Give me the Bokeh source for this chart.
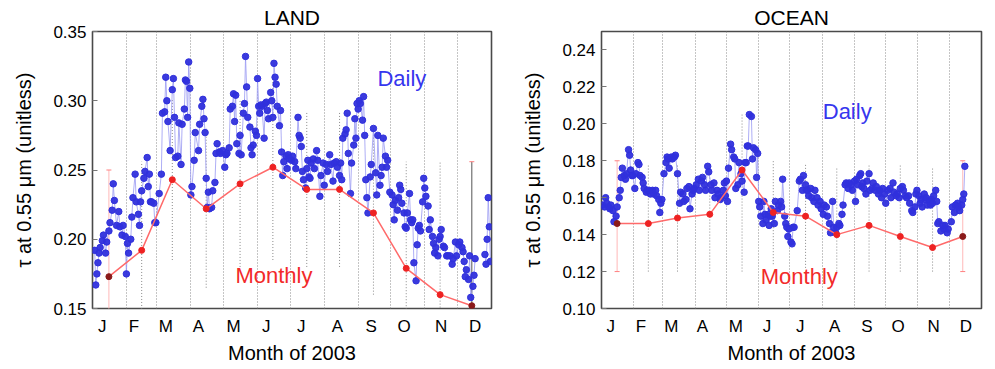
import numpy as np
from bokeh.plotting import figure
from bokeh.layouts import row
from bokeh.models import Range1d, FixedTicker, PrintfTickFormatter, Label
from bokeh.embed import file_html
from bokeh.resources import INLINE

# ---------------- data ----------------
month_letters = ["J", "F", "M", "A", "M", "J", "J", "A", "S", "O", "N", "D"]
month_label_days = [9, 38, 67, 97, 129, 159, 191, 224, 255, 285, 319, 350]
month_bounds = [31, 59, 90, 120, 151, 181, 212, 243, 273, 304, 334]
monthly_days = [15, 45, 73, 104, 135, 165, 196, 226, 257, 287, 318, 347]

land_day = (
    [2, 3, 4, 5, 6, 7, 9, 10, 12, 13, 15, 16, 18, 19, 20, 22, 24, 25, 27, 28, 30]
    + [31, 32, 33, 35, 36, 37, 39, 40, 42, 43, 44, 45, 47, 48, 50, 51, 52, 53, 54, 56, 57, 58]
    + [61, 63, 64, 66, 67, 68, 69, 71, 73, 74, 75, 76, 78, 79, 81, 82, 84, 85, 86, 87, 88, 89]
    + [90, 91, 93, 94, 97, 98, 100, 101, 102, 103, 104, 105, 106, 107, 109, 110, 112, 113, 114, 116, 117, 119]
    + [121, 122, 123, 125, 126, 128, 129, 130, 131, 132, 134, 135, 136, 138, 139, 140, 141, 142, 144, 145, 146, 147, 149, 150]
    + [151, 152, 153, 154, 155, 157, 158, 159, 160, 161, 163, 164, 165, 166, 167, 168, 169, 171, 172, 173, 174, 175, 177, 178, 179, 180]
    + [182, 183, 185, 186, 188, 189, 190, 191, 192, 193, 195, 196, 197, 198, 199, 200, 202, 203, 205, 206, 208, 209, 211]
    + [212, 214, 215, 217, 218, 220, 221, 223, 224, 226, 227, 228, 229, 231, 232, 233, 234, 236, 237, 239, 240, 241, 242]
    + [243, 244, 245, 247, 248, 249, 250, 251, 252, 254, 255, 257, 259, 260, 261, 263, 264, 265, 266, 268, 269, 270, 272]
    + [274, 275, 276, 277, 279, 280, 281, 282, 283, 285, 286, 287, 288, 290, 291, 292, 293, 294, 296, 297, 298, 299, 300, 302, 303]
    + [304, 305, 307, 308, 309, 311, 312, 313, 314, 316, 317, 318, 319, 321, 322, 324, 325, 327, 329, 330, 332, 333]
    + [335, 336, 338, 339, 340, 341, 342, 344, 345, 346, 348, 349, 350, 359, 360, 361, 362, 363, 364]
)
land_aod = (
    [.192, .167, .175, .183, .190, .194, .199, .203, .190, .198, .206, .212, .221, .240, .228, .210, .220, .209, .203, .210, .202]
    + [.175, .197, .190, .200, .216, .230, .247, .227, .218, .210, .227, .235, .244, .249, .259, .238, .247, .227, .227, .226, .212, .212]
    + [.233, .247, .291, .292, .317, .300, .285, .264, .308, .316, .288, .259, .260, .284, .254, .283, .294, .315, .314, .288, .328, .309]
    + [.232, .238, .257, .277, .264, .283, .296, .301, .287, .277, .244, .223, .234, .222, .223, .235, .241, .262, .269, .263, .262, .264]
    + [.252, .261, .262, .266, .294, .296, .305, .285, .304, .269, .262, .275, .261, .291, .298, .332, .310, .288, .281, .266, .261, .268, .278, .275]
    + [.316, .296, .291, .297, .296, .273, .298, .299, .293, .287, .306, .300, .288, .327, .317, .312, .296, .282, .293, .263, .246, .256, .260, .251, .261, .258]
    + [.257, .260, .256, .251, .288, .275, .273, .267, .249, .243, .237, .251, .257, .245, .244, .255, .258, .251, .264, .257, .231, .246, .255]
    + [.239, .254, .249, .261, .254, .242, .255, .256, .252, .246, .255, .243, .273, .276, .279, .291, .262, .233, .255, .268, .287, .273, .298]
    + [.294, .300, .298, .286, .303, .275, .243, .230, .219, .245, .254, .280, .248, .232, .275, .239, .246, .252, .273, .260, .252, .257, .234]
    + [.232, .225, .214, .228, .221, .230, .239, .236, .226, .219, .209, .208, .219, .233, .214, .212, .214, .183, .170, .196, .208, .210, .206, .227, .244]
    + [.237, .231, .224, .207, .214, .202, .197, .190, .194, .188, .200, .202, .207, .195, .194, .188, .188, .188, .182, .186, .198, .188]
    + [.196, .198, .194, .191, .184, .173, .178, .171, .188, .158, .166, .174, .186, .189, .182, .200, .230, .209, .184]
)
land_monthly = [0.173, 0.192, 0.243, 0.222, 0.240, 0.252, 0.236, 0.236, 0.219, 0.179, 0.160, 0.152]
land_err_lo = [0.096, 0.128, 0.185, 0.165, 0.180, 0.185, 0.180, 0.180, 0.160, 0.104, 0.064, 0.048]
land_err_hi = [0.250, 0.256, 0.301, 0.280, 0.300, 0.319, 0.292, 0.292, 0.278, 0.256, 0.256, 0.256]

ocean_day = (
    [1, 3, 4, 5, 7, 8, 9, 11, 12, 14, 15, 17, 18, 19, 20, 22, 23, 24, 26, 27, 28, 29, 30]
    + [32, 33, 35, 36, 37, 39, 40, 41, 43, 44, 46, 47, 49, 50, 52, 53, 55, 56, 57, 58]
    + [60, 62, 63, 64, 65, 67, 68, 70, 71, 73, 75, 76, 78, 79, 81, 82, 84, 85, 87, 88, 89]
    + [91, 93, 94, 96, 97, 99, 100, 102, 103, 105, 106, 108, 109, 111, 112, 114, 115, 117, 118, 119]
    + [120, 121, 122, 124, 125, 127, 128, 129, 131, 132, 134, 135, 137, 138, 139, 140, 141, 142, 144, 145, 146, 148, 149, 150]
    + [151, 152, 153, 155, 156, 157, 158, 160, 161, 162, 163, 164, 166, 167, 169, 170, 172, 173, 174, 176, 177, 178, 179, 180]
    + [182, 183, 184, 185, 188, 190, 191, 193, 194, 196, 197, 198, 199, 201, 202, 204, 205, 207, 208, 210, 211]
    + [213, 214, 216, 217, 219, 220, 222, 223, 225, 226, 228, 229, 231, 232, 234, 235, 237, 238, 240, 241]
    + [243, 244, 245, 246, 248, 249, 250, 251, 252, 254, 255, 257, 258, 260, 261, 263, 264, 266, 267, 269, 270, 272]
    + [273, 275, 277, 278, 280, 281, 283, 284, 286, 287, 289, 290, 292, 293, 295, 296, 298, 299, 301, 302, 303]
    + [305, 306, 307, 308, 310, 311, 312, 313, 315, 316, 317, 318, 319, 321, 322, 323, 324, 326, 328, 329, 330, 332, 333]
    + [336, 337, 339, 340, 342, 343, 344, 346, 347, 348, 349]
)
ocean_aod = (
    [.156, .155, .160, .157, .155, .154, .156, .153, .147, .150, .155, .160, .164, .171, .176, .172, .170, .173, .186, .183, .175, .172, .172]
    + [.165, .173, .179, .178, .172, .171, .168, .165, .163, .164, .164, .162, .164, .162, .164, .161, .159, .152, .157, .159]
    + [.173, .179, .182, .181, .176, .182, .181, .182, .183, .173, .157, .163, .162, .158, .159, .165, .166, .154, .162, .164, .165]
    + [.167, .170, .164, .169, .171, .167, .164, .177, .174, .167, .164, .168, .160, .164, .162, .159, .160, .164, .168, .161]
    + [.169, .158, .176, .189, .186, .182, .181, .165, .167, .179, .173, .169, .163, .179, .179, .188, .188, .205, .204, .181, .187, .186, .171, .184]
    + [.158, .155, .150, .146, .158, .151, .148, .151, .145, .150, .154, .150, .146, .158, .153, .156, .158, .155, .170, .150, .146, .144, .139, .143]
    + [.136, .135, .144, .144, .153, .169, .170, .164, .172, .167, .164, .164, .161, .165, .160, .158, .164, .160, .156, .158, .154]
    + [.151, .156, .155, .150, .146, .141, .158, .144, .141, .144, .146, .145, .151, .156, .167, .168, .165, .168, .167, .164]
    + [.169, .158, .170, .167, .172, .173, .166, .168, .165, .162, .169, .173, .164, .165, .168, .164, .166, .162, .164, .160, .165, .162]
    + [.157, .164, .165, .160, .168, .163, .161, .162, .160, .165, .166, .164, .161, .160, .161, .157, .153, .152, .155, .162, .164]
    + [.161, .157, .159, .155, .162, .159, .160, .156, .158, .156, .159, .157, .161, .164, .158, .146, .147, .142, .145, .143, .145, .141, .143]
    + [.147, .155, .152, .156, .157, .155, .153, .156, .159, .162, .177]
)
ocean_monthly = [0.146, 0.146, 0.149, 0.151, 0.175, 0.152, 0.150, 0.140, 0.145, 0.139, 0.133, 0.139]
ocean_err_lo = [0.120, 0.120, 0.120, 0.120, 0.120, 0.124, 0.122, 0.120, 0.120, 0.120, 0.120, 0.120]
ocean_err_hi = [0.180, 0.178, 0.178, 0.178, 0.205, 0.180, 0.178, 0.176, 0.178, 0.178, 0.176, 0.180]

land_yticks = [0.15, 0.20, 0.25, 0.30, 0.35]
ocean_yticks = [0.10, 0.12, 0.14, 0.16, 0.18, 0.20, 0.22, 0.24]

FONT = "Liberation Sans"
BLUE = "#3030dc"


def split_runs(days, vals, max_gap=5):
    xs, ys = [[]], [[]]
    for i, (d, v) in enumerate(zip(days, vals)):
        if i > 0 and d - days[i - 1] > max_gap:
            xs.append([])
            ys.append([])
        xs[-1].append(d)
        ys[-1].append(v)
    return xs, ys


def panel(title, days, aod, monthly, elo, ehi, yrange, yticks, frame_w,
          border_left, border_right, daily_xy, monthly_xy, last_bar_dark):
    p = figure(frame_width=frame_w, frame_height=277,
               x_range=Range1d(0, 365), y_range=Range1d(*yrange),
               output_backend="svg", toolbar_location=None,
               min_border_left=border_left, min_border_right=border_right,
               min_border_top=0, min_border_bottom=48,
               background_fill_color="white", border_fill_color="white")
    p.title.text = title
    p.title.align = "center"
    p.title.text_font = FONT
    p.title.text_font_size = "21px"
    p.title.text_font_style = "normal"
    p.title.text_color = "black"
    p.title.standoff = 6

    p.outline_line_color = "#4a4a4a"
    p.outline_line_width = 1.6
    p.outline_line_alpha = 1.0

    # grid: month boundaries
    p.ygrid.grid_line_color = None
    p.xgrid.ticker = FixedTicker(ticks=month_bounds)
    p.xgrid.grid_line_color = "#8a8a8a"
    p.xgrid.grid_line_dash = "1 2"
    p.xgrid.grid_line_width = 1

    # x axis
    xa = p.xaxis[0]
    xa.ticker = FixedTicker(ticks=month_label_days)
    xa.major_label_overrides = {d: m for d, m in zip(month_label_days, month_letters)}
    xa.major_tick_line_color = None
    xa.major_tick_out = 0
    xa.major_tick_in = 0
    xa.minor_tick_line_color = None
    xa.axis_line_color = None
    xa.major_label_standoff = 8
    xa.major_label_text_font = FONT
    xa.major_label_text_font_size = "17px"
    xa.major_label_text_color = "black"
    xa.axis_label = "Month of 2003"
    xa.axis_label_text_font = FONT
    xa.axis_label_text_font_size = "20px"
    xa.axis_label_text_font_style = "normal"
    xa.axis_label_text_color = "black"
    xa.axis_label_standoff = 3

    # y axis
    ya = p.yaxis[0]
    ya.ticker = FixedTicker(ticks=yticks)
    ya.formatter = PrintfTickFormatter(format="%.2f")
    ya.major_tick_in = 5
    ya.major_tick_out = 0
    ya.major_tick_line_color = "#777777"
    ya.minor_tick_line_color = None
    ya.axis_line_color = None
    ya.major_label_standoff = 6
    ya.major_label_text_font = FONT
    ya.major_label_text_font_size = "17px"
    ya.major_label_text_color = "black"
    ya.axis_label = "\u03c4 at 0.55 \u03bcm (unitless)"
    ya.axis_label_text_font = FONT
    ya.axis_label_text_font_size = "20px"
    ya.axis_label_text_font_style = "normal"
    ya.axis_label_text_color = "black"
    ya.axis_label_standoff = 15

    # monthly error bars (dotted), first/last special
    p.segment(x0=monthly_days[1:-1], y0=elo[1:-1], x1=monthly_days[1:-1], y1=ehi[1:-1],
              line_color="#8a8a8a", line_dash="1 2", line_width=1)
    p.segment(x0=[monthly_days[0]], y0=[elo[0]], x1=[monthly_days[0]], y1=[ehi[0]],
              line_color="#ffb8b8", line_width=1)
    p.segment(x0=[monthly_days[-1]], y0=[elo[-1]], x1=[monthly_days[-1]], y1=[ehi[-1]],
              line_color="#555555" if last_bar_dark else "#ffb8b8", line_width=1)
    cap_x = [monthly_days[0], monthly_days[0], monthly_days[-1], monthly_days[-1]]
    cap_y = [elo[0], ehi[0], elo[-1], ehi[-1]]
    p.scatter(cap_x, cap_y, marker="dash", size=5, line_color="#ff8080", line_width=1)

    # daily series
    xs, ys = split_runs(days, aod)
    p.multi_line(xs, ys, line_color="#9a9af2", line_width=1, line_alpha=0.8)
    p.scatter(days, aod, size=6.5, fill_color=BLUE, line_color=BLUE, fill_alpha=0.95)

    # monthly series
    p.line(monthly_days, monthly, line_color="#ff6a6a", line_width=1.5)
    mcol = ["#8b1a1a"] + ["#ee2222"] * (len(monthly) - 2) + ["#8b1a1a"]
    p.scatter(monthly_days, monthly, size=6, fill_color=mcol, line_color=mcol)

    p.add_layout(Label(x=daily_xy[0], y=daily_xy[1], text="Daily", text_align="center",
                       text_baseline="middle", text_font=FONT, text_font_size="22px",
                       text_color="#3636ee"))
    p.add_layout(Label(x=monthly_xy[0], y=monthly_xy[1], text="Monthly", text_align="center",
                       text_baseline="middle", text_font=FONT, text_font_size="22px",
                       text_color="#f22a2a"))
    return p


p_land = panel("LAND", land_day, land_aod, land_monthly, land_err_lo, land_err_hi,
               (0.15, 0.35), land_yticks, 399, 92, 5, (283, 0.316), (166, 0.174), True)
p_ocean = panel("OCEAN", ocean_day, ocean_aod, ocean_monthly, ocean_err_lo, ocean_err_hi,
                (0.10, 0.25), ocean_yticks, 380, 105, 2, (236, 0.2065), (190, 0.1175), False)

p = row(p_land, p_ocean)
open("out.html", "w").write(file_html(p, INLINE))
